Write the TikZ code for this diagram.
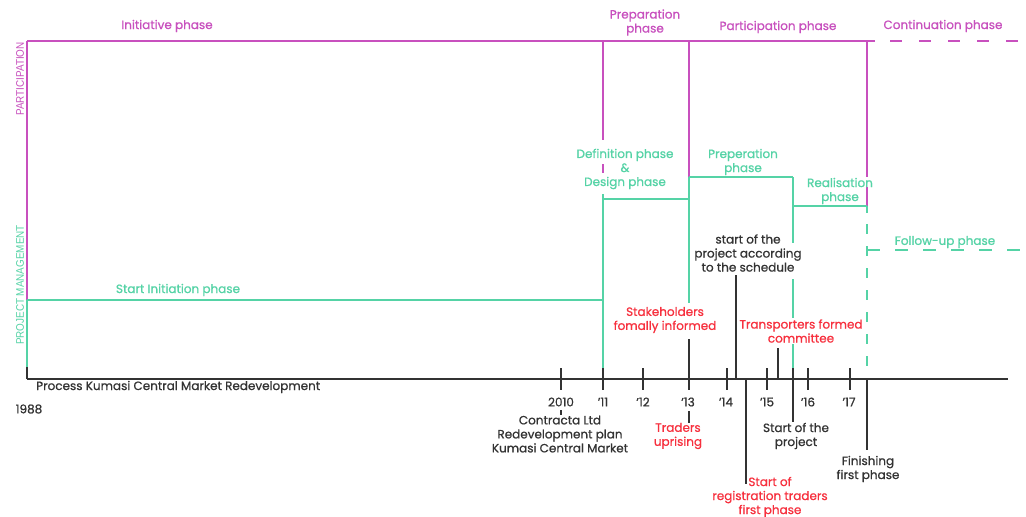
\documentclass[tikz,border=0pt]{standalone}
\usepackage{fontspec}
\setmainfont[FakeBold=0.8]{Poppins}
\newfontfamily\narrowfont[FakeStretch=0.9]{Liberation Sans}
\definecolor{mag}{HTML}{C850BE}
\definecolor{grn}{HTML}{55D3A6}
\definecolor{rd}{HTML}{F7303E}
\definecolor{ink}{HTML}{333333}
\begin{document}
\begin{tikzpicture}[x=1pt,y=-1pt,
  lab/.style={font=\fontsize{12}{14}\selectfont, align=center, inner sep=0pt},
  mtxt/.style={lab, text=mag},
  gtxt/.style={lab, text=grn},
  rtxt/.style={lab, text=rd},
  btxt/.style={lab, text=ink},
  mline/.style={mag, line width=1.5pt},
  gline/.style={grn, line width=1.5pt},
  bline/.style={ink, line width=1.6pt},
  tickmark/.style={ink, line width=1.6pt},
  side/.style={inner sep=0pt, rotate=90, font=\narrowfont\fontsize{11}{13}\selectfont}]
\path[use as bounding box, fill=white] (0,0) rectangle (1026,517);

% ---- coordinates ----
\coordinate (o)    at (27,379);
\coordinate (axe)  at (1008,379);
\coordinate (tl)   at (27,41);
\coordinate (pm)   at (27,300);
\coordinate (x11t) at (603,41);
\coordinate (x13t) at (689,41);
\coordinate (x17t) at (867,41);

% ---- magenta (participation) ----
\draw[mline] (tl) -- (875,41);
\draw[mline, dash pattern=on 12pt off 17pt] (890,41) -- (1026,41);
\draw[mline] (tl) -- (pm);
\draw[mline] (x11t) -- (603,140);
\draw[mline] (603,164) -- (603,173);
\draw[mline] (x13t) -- (689,177);
\draw[mline] (x17t) -- (867,177);
\draw[mline] (867,187) -- (867,206);

% ---- green (project management) ----
\draw[gline] (pm) -- (27,367);
\draw[bline] (27,367) -- (o);
\draw[gline] (pm) -- (603,300);
\draw[gline] (603,194) -- (603,379);
\draw[gline] (603,199) -- (689,199);
\draw[gline] (689,177) -- (689,303);
\draw[gline] (689,177) -- (793,177);
\draw[gline] (793,177) -- (793,243);
\draw[gline] (793,279) -- (793,318);
\draw[gline] (793,344) -- (793,368);
\draw[gline] (793,206) -- (867,206);
\draw[gline, dash pattern=on 7pt off 11pt on 10pt off 12pt on 10pt off 12pt on 10pt off 12pt on 10pt off 12pt on 10pt off 12pt on 10pt off 12pt on 10pt off 12pt] (867,206) -- (867,379);
\draw[gline, dash pattern=on 13pt off 15pt] (867,250) -- (1026,250);

% ---- axis and ticks ----
\draw[ink, line width=2pt] (o) -- (axe);
\foreach \x in {561,603,643,727,767,808,850}
  \draw[tickmark] (\x,368) -- (\x,390);
\draw[bline] (689,339) -- (689,390);
\draw[bline] (689,411) -- (689,423);
\draw[bline] (561,410) -- (561,415);
\draw[bline] (736,275) -- (736,379);
\draw[bline] (746,379) -- (746,484);
\draw[bline] (778,348) -- (778,379);
\draw[bline] (793,368) -- (793,422);
\draw[bline] (867,379) -- (867,450);

% ---- side labels ----
\node[side, text=mag] (sPart) at (20,79) {PARTICIPATION};
\node[side, text=grn] (sPM)   at (20,285) {PROJECT MANAGEMENT};

% ---- phase labels (magenta) ----
\node[mtxt] (lIni)  at (167,26) {Initiative phase};
\node[mtxt] (lPrep) at (645,22.5) {Preparation\\phase};
\node[mtxt] (lPart) at (778,27) {Participation phase};
\node[mtxt] (lCont) at (943,26) {Continuation phase};

% ---- phase labels (green) ----
\node[gtxt] (gStart) at (178,290) {Start Initiation phase};
\node[gtxt] (gDef)   at (625,169) {Definition phase\\\&\\Design phase};
\node[gtxt] (gPrep)  at (743,162) {Preperation\\phase};
\node[gtxt] (gReal)  at (840,191) {Realisation\\phase};
\node[gtxt] (gFol)   at (945,242) {Follow-up phase};

% ---- black labels ----
\node[btxt, anchor=west] (bProc) at (36,387) {Process Kumasi Central Market Redevelopment};
\node[btxt] (b1988) at (29,409) {1988};
\node[btxt] (y10) at (561,402) {2010};
\node[btxt] (y11) at (603,402) {'11};
\node[btxt] (y12) at (643,402) {'12};
\node[btxt] (y13) at (688,402) {'13};
\node[btxt] (y14) at (726,402) {'14};
\node[btxt] (y15) at (767,402) {'15};
\node[btxt] (y16) at (808,402) {'16};
\node[btxt] (y17) at (849,402) {'17};
\node[btxt] (bContr) at (560,434) {Contracta Ltd\\Redevelopment plan\\Kumasi Central Market};
\node[btxt] (bSched) at (748,253) {start of the\\project according\\to the schedule};
\node[btxt] (bStart) at (796,436) {Start of the\\project};
\node[btxt] (bFin)   at (868,469) {Finishing\\first phase};

% ---- red labels ----
\node[rtxt] (rStake) at (665,320) {Stakeholders\\fomally informed};
\node[rtxt] (rTrad)  at (678,436) {Traders\\uprising};
\node[rtxt] (rTrans) at (801,331) {Transporters formed\\committee};
\node[rtxt] (rReg)   at (770,497) {Start of\\registration traders\\first phase};
\end{tikzpicture}
\end{document}
